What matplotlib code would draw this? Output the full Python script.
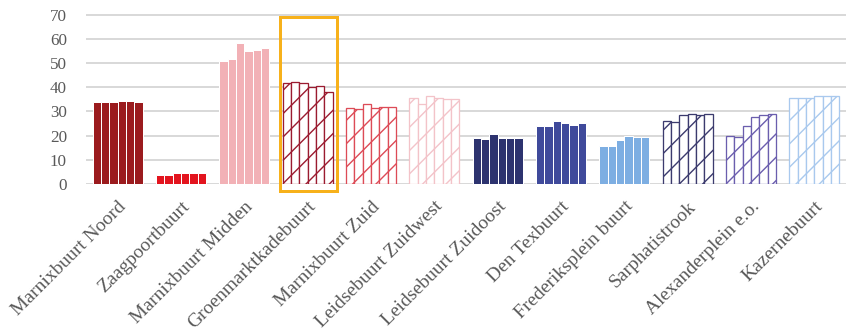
import matplotlib
matplotlib.use("Agg")
import matplotlib.pyplot as plt
from matplotlib.patches import Rectangle
import numpy as np

# Neighbourhoods (buurten) and six yearly values per neighbourhood
categories = [
    "Marnixbuurt Noord", "Zaagpoortbuurt", "Marnixbuurt Midden",
    "Groenmarktkadebuurt", "Marnixbuurt Zuid", "Leidsebuurt Zuidwest",
    "Leidsebuurt Zuidoost", "Den Texbuurt", "Frederiksplein buurt",
    "Sarphatistrook", "Alexanderplein e.o.", "Kazernebuurt",
]
values = [
    [33.7, 33.7, 34.0, 34.5, 34.5, 34.1],
    [3.6, 3.7, 4.4, 4.7, 4.5, 4.4],
    [51.0, 51.7, 58.2, 55.1, 55.2, 56.1],
    [41.9, 42.3, 41.8, 40.2, 40.4, 38.0],
    [31.3, 31.2, 33.2, 31.3, 31.8, 31.7],
    [35.7, 33.2, 36.4, 35.7, 35.0, 35.0],
    [18.9, 18.5, 20.7, 18.9, 19.0, 19.0],
    [24.0, 24.0, 25.9, 25.2, 24.3, 25.1],
    [15.6, 15.6, 18.2, 19.7, 19.6, 19.6],
    [25.9, 25.5, 28.4, 28.9, 28.5, 28.9],
    [19.7, 19.3, 23.8, 27.6, 28.4, 28.9],
    [35.4, 35.4, 35.4, 36.5, 36.5, 36.4],
]
colors = [
    "#9B1B1E", "#E3141E", "#F2B1B6",
    "#9B1B30", "#DD4B57", "#F3C3C9",
    "#2D336F", "#3F4A9B", "#7DAEE2",
    "#3C3B6E", "#6B5EAE", "#A9C9EE",
]
hatched = [False, False, False, True, True, True,
           False, False, False, True, True, True]
yticks = [0, 10, 20, 30, 40, 50, 60, 70]
highlight = "Groenmarktkadebuurt"

W, H, DPI = 846, 334, 140


def pt(px):
    """Convert a pixel size to points at the figure resolution."""
    return px * 72.0 / DPI


plt.rcParams["hatch.linewidth"] = pt(1.4)
fig = plt.figure(figsize=(W / DPI, H / DPI), dpi=DPI)
ymax = 70.5
px_per_unit = 2.419
top_px = 184 - ymax * px_per_unit
ax = fig.add_axes([86 / W, 1 - 184 / H, 760 / W, (184 - top_px) / H])

n_series = len(values[0])
bw = 0.132
for i, (vals, col, h) in enumerate(zip(values, colors, hatched)):
    xs = i + (np.arange(n_series) - (n_series - 1) / 2) * bw
    if h:
        ax.bar(xs, vals, width=bw, facecolor="white", edgecolor=col,
               hatch="//", linewidth=pt(1.3), zorder=3)
    else:
        ax.bar(xs, vals, width=bw, color=col, edgecolor="white",
               linewidth=pt(1.0), zorder=3)

ax.set_xlim(-0.5, len(categories) - 0.5)
ax.set_ylim(0, ymax)
ax.set_yticks(yticks)
ax.yaxis.grid(True, color="#D9D9D9", linewidth=pt(2.0), zorder=0)
ax.set_axisbelow(True)
for s in ax.spines.values():
    s.set_visible(False)
ax.tick_params(axis="both", length=0)
ax.tick_params(axis="y", pad=pt(19), labelsize=pt(17), labelcolor="#595959")
for lab in ax.get_yticklabels():
    lab.set_fontfamily("Liberation Serif")

ax.set_xticks(range(len(categories)))
ax.set_xticklabels(categories, rotation=45, ha="right", va="top",
                   rotation_mode="anchor", fontsize=pt(19.5),
                   color="#595959", family="Liberation Serif")
ax.tick_params(axis="x", pad=pt(14))

# Frame around the highlighted neighbourhood
hi = categories.index(highlight)
ax.add_patch(Rectangle((hi - 0.44, -2.9), 0.9, 71.9, fill=False,
                       edgecolor="#F7B11B", linewidth=pt(3.0),
                       clip_on=False, zorder=5))

fig.savefig("out.png", dpi=DPI)
